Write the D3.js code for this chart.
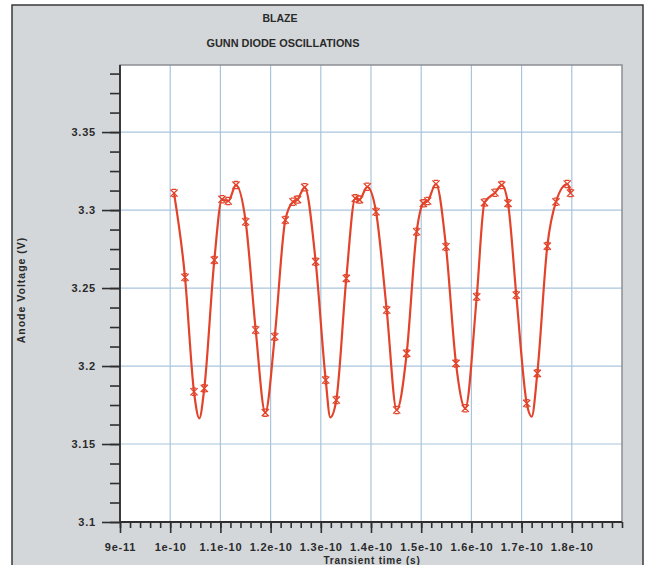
<!DOCTYPE html>
<html>
<head>
<meta charset="utf-8">
<script src="https://cdn.jsdelivr.net/npm/d3@7"></script>
<style>
  html, body { margin: 0; padding: 0; background: #ffffff; }
  svg { display: block; }
  text { font-family: "Liberation Sans", Arial, sans-serif; font-weight: bold; fill: #2a2a2a; }
</style>
</head>
<body>
<svg id="chart" width="650" height="565"></svg>
<script>
// Simulated anode voltage of the Gunn diode, sampled at the solver's time steps
const timeS = [
  1.0076e-10, 1.0295e-10, 1.0474e-10, 1.0679e-10, 1.0879e-10, 1.1032e-10, 1.1157e-10, 1.1311e-10,
  1.1504e-10, 1.1703e-10, 1.1894e-10, 1.2082e-10, 1.2293e-10, 1.2446e-10, 1.2536e-10, 1.2679e-10,
  1.2898e-10, 1.3098e-10, 1.3309e-10, 1.3508e-10, 1.3687e-10, 1.3771e-10, 1.3926e-10, 1.4100e-10,
  1.4313e-10, 1.4512e-10, 1.4711e-10, 1.4910e-10, 1.5042e-10, 1.5129e-10, 1.5295e-10, 1.5494e-10,
  1.5693e-10, 1.5878e-10, 1.6106e-10, 1.6261e-10, 1.6470e-10, 1.6604e-10, 1.6729e-10, 1.6894e-10,
  1.7102e-10, 1.7313e-10, 1.7512e-10, 1.7685e-10, 1.7910e-10, 1.7974e-10
];
const anodeV = [
  3.3109, 3.2569, 3.1835, 3.1857, 3.2679, 3.3069, 3.3058, 3.3160,
  3.2925, 3.2231, 3.1701, 3.2188, 3.2936, 3.3053, 3.3067, 3.3146,
  3.2669, 3.1910, 3.1782, 3.2562, 3.3075, 3.3067, 3.3149, 3.2989,
  3.2359, 3.1718, 3.2081, 3.2861, 3.3043, 3.3058, 3.3167, 3.2765,
  3.2017, 3.1729, 3.2444, 3.3048, 3.3111, 3.3160, 3.3043, 3.2455,
  3.1761, 3.1953, 3.2769, 3.3053, 3.3167, 3.3109
];
// Intermediate samples at the voltage troughs (curve only, no marker)
const troughTimeS = [1.0580e-10, 1.3189e-10, 1.7201e-10];
const troughV     = [3.1665, 3.1671, 3.1675];

// Axis ticks
const xMajorTicks = [9e-11, 1e-10, 1.1e-10, 1.2e-10, 1.3e-10, 1.4e-10, 1.5e-10, 1.6e-10, 1.7e-10, 1.8e-10];
const xTickLabels = ["9e-11", "1e-10", "1.1e-10", "1.2e-10", "1.3e-10", "1.4e-10", "1.5e-10", "1.6e-10", "1.7e-10", "1.8e-10"];
const yMajorTicks = [3.1, 3.15, 3.2, 3.25, 3.3, 3.35];
const yTickLabels = ["3.1", "3.15", "3.2", "3.25", "3.3", "3.35"];

const titleMain = "BLAZE";
const titleSub = "GUNN DIODE OSCILLATIONS";
const xLabel = "Transient time (s)";
const yLabel = "Anode Voltage (V)";

const svg = d3.select("#chart");
const plot = { left: 120, right: 622, top: 65, bottom: 522 };
const lineColor = "#e2442b";
const gridColor = "#a8c5dc";

// Panel background and frame
svg.append("rect")
  .attr("x", 12).attr("y", 5).attr("width", 631).attr("height", 570)
  .attr("fill", "#d3d7da").attr("stroke", "#3a3a3a").attr("stroke-width", 1.5);

const x = d3.scaleLinear().domain([9e-11, 1.9e-10]).range([plot.left, plot.right]);
const y = d3.scaleLinear().domain([3.1, 3.393]).range([plot.bottom, plot.top]);

// Plot area
svg.append("rect")
  .attr("x", plot.left).attr("y", plot.top)
  .attr("width", plot.right - plot.left).attr("height", plot.bottom - plot.top)
  .attr("fill", "#ffffff");

// Grid
const grid = svg.append("g");
grid.selectAll("line.gx").data(xMajorTicks.slice(1)).join("line")
  .attr("x1", d => x(d)).attr("x2", d => x(d))
  .attr("y1", plot.top).attr("y2", plot.bottom)
  .attr("stroke", gridColor).attr("stroke-width", 1.2);
grid.selectAll("line.gy").data(yMajorTicks.slice(1)).join("line")
  .attr("x1", plot.left).attr("x2", plot.right)
  .attr("y1", d => y(d)).attr("y2", d => y(d))
  .attr("stroke", gridColor).attr("stroke-width", 1.2);

// Frame of the plot area
svg.append("rect")
  .attr("x", plot.left).attr("y", plot.top)
  .attr("width", plot.right - plot.left).attr("height", plot.bottom - plot.top)
  .attr("fill", "none").attr("stroke", "#8c8f92").attr("stroke-width", 1.5);

// Minor ticks
const xMinor = d3.range(0, 51).map(i => 9e-11 + i * 2e-12).filter(v => v <= 1.9e-10 + 1e-15);
const yMinor = d3.range(0, 24).map(i => 3.1 + i * 0.0125).filter(v => v <= 3.393);

const axisStyle = g => {
  g.select(".domain").remove();
  g.selectAll(".tick line").attr("stroke", "#2e2e2e").attr("stroke-width", 1.6);
  g.selectAll(".tick text").attr("font-size", 11).attr("fill", "#2a2a2a")
    .attr("letter-spacing", "0.8px")
    .attr("font-family", "'Liberation Sans', Arial, sans-serif").attr("font-weight", "bold");
};

svg.append("g").attr("transform", `translate(0,${plot.bottom})`)
  .call(d3.axisBottom(x).tickValues(xMinor).tickSize(6).tickFormat(""))
  .call(axisStyle);
svg.append("g").attr("transform", `translate(0,${plot.bottom})`)
  .call(d3.axisBottom(x).tickValues(xMajorTicks).tickSize(11).tickPadding(10)
    .tickFormat((d, i) => xTickLabels[i]))
  .call(axisStyle);

svg.append("g").attr("transform", `translate(${plot.left},0)`)
  .call(d3.axisLeft(y).tickValues(yMinor).tickSize(10).tickFormat(""))
  .call(axisStyle);
svg.append("g").attr("transform", `translate(${plot.left},0)`)
  .call(d3.axisLeft(y).tickValues(yMajorTicks).tickSize(18).tickPadding(6)
    .tickFormat((d, i) => yTickLabels[i]))
  .call(axisStyle);

// Axis lines
svg.append("line")
  .attr("x1", plot.left).attr("x2", plot.right).attr("y1", plot.bottom).attr("y2", plot.bottom)
  .attr("stroke", "#2e2e2e").attr("stroke-width", 1.8);
svg.append("line")
  .attr("x1", plot.left).attr("x2", plot.left).attr("y1", plot.top).attr("y2", plot.bottom)
  .attr("stroke", "#2e2e2e").attr("stroke-width", 1.8);

// Voltage curve
const curvePts = timeS.map((t, i) => [t, anodeV[i]])
  .concat(troughTimeS.map((t, i) => [t, troughV[i]]))
  .sort((a, b) => a[0] - b[0]);

svg.append("path")
  .datum(curvePts)
  .attr("fill", "none").attr("stroke", lineColor).attr("stroke-width", 2.2)
  .attr("stroke-linejoin", "round")
  .attr("d", d3.line().x(d => x(d[0])).y(d => y(d[1])).curve(d3.curveMonotoneX));

// Markers: cross with short caps
const s = 3.6, c = 2.2;
const markerPath = `M${-s},${-s}L${s},${s}M${s},${-s}L${-s},${s}M${-c},${-s}H${c}M${-c},${s}H${c}`;
svg.append("g").selectAll("path").data(timeS).join("path")
  .attr("transform", (t, i) => `translate(${x(t)},${y(anodeV[i])})`)
  .attr("d", markerPath)
  .attr("fill", "none").attr("stroke", lineColor).attr("stroke-width", 1.3);

// Titles and axis labels
svg.append("text").attr("x", 280).attr("y", 22).attr("text-anchor", "middle")
  .attr("font-size", 10.5).text(titleMain);
svg.append("text").attr("x", 283).attr("y", 47).attr("text-anchor", "middle")
  .attr("font-size", 10.5).attr("textLength", 153).attr("lengthAdjust", "spacingAndGlyphs")
  .text(titleSub);
svg.append("text").attr("x", 372).attr("y", 564).attr("text-anchor", "middle")
  .attr("font-size", 10).attr("letter-spacing", "0.8px").text(xLabel);
svg.append("text").attr("transform", "translate(25,290) rotate(-90)").attr("text-anchor", "middle")
  .attr("font-size", 10.5).attr("letter-spacing", "1px").text(yLabel);
</script>
</body>
</html>
